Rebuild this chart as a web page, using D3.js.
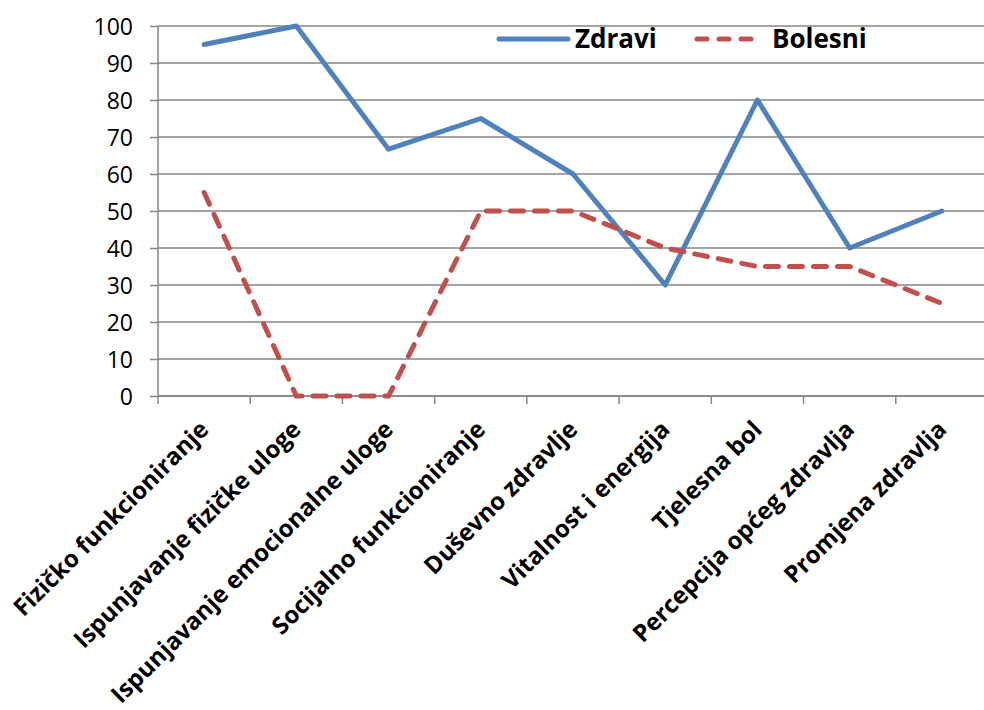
<!DOCTYPE html>
<html><head><meta charset="utf-8">
<script src="https://cdn.jsdelivr.net/npm/d3@7"></script>
<style>body{margin:0;background:#fff}</style>
</head><body>
<svg id="c" width="984" height="710"></svg>
<script>
const categories = ["Fizičko funkcioniranje","Ispunjavanje fizičke uloge","Ispunjavanje emocionalne uloge","Socijalno funkcioniranje","Duševno zdravlje","Vitalnost i energija","Tjelesna bol","Percepcija općeg zdravlja","Promjena zdravlja"];
const zdravi = [95,100,66.7,75,60,30,80,40,50];
const bolesni = [55,0,0,50,50,40,35,35,25];
const yTicks = [0,10,20,30,40,50,60,70,80,90,100];
const seriesNames = ["Zdravi","Bolesni"];

(function(){
const svg = d3.select("#c");
const mLeft=158, mRight=988, mTop=26, mBottom=396;
const x = d3.scaleBand().domain(categories).range([mLeft,mRight]);
const y = d3.scaleLinear().domain([0,100]).range([mBottom,mTop]);
const font = "'Open Sans', Carlito, sans-serif";

svg.append("g").selectAll("line").data(yTicks).join("line")
  .attr("x1",mLeft).attr("x2",984).attr("y1",d=>y(d)).attr("y2",d=>y(d))
  .attr("stroke","#868686").attr("stroke-width",1.5);

const ya = svg.append("g").attr("transform",`translate(${mLeft},0)`)
  .call(d3.axisLeft(y).tickValues(yTicks).tickSize(8).tickPadding(17));
ya.select(".domain").attr("stroke","#868686").attr("stroke-width",1.5).attr("d",`M0,${mBottom}V${mTop}`);
ya.selectAll(".tick line").attr("stroke","#868686").attr("stroke-width",1.5);
ya.selectAll(".tick text").attr("font-family",font).attr("font-size",23).attr("fill","#000").attr("dy","0.35em");

const bounds = categories.map(c=>x(c)).concat([mRight]);
svg.append("g").selectAll("line").data(bounds).join("line")
  .attr("x1",d=>d).attr("x2",d=>d).attr("y1",mBottom).attr("y2",mBottom+8)
  .attr("stroke","#868686").attr("stroke-width",1.5);
svg.append("line").attr("x1",mLeft).attr("x2",984).attr("y1",mBottom).attr("y2",mBottom)
  .attr("stroke","#868686").attr("stroke-width",1.5);

svg.append("g").selectAll("text").data(categories).join("text")
  .attr("transform",d=>`translate(${x(d)+x.bandwidth()/2+6},${mBottom+35}) rotate(-45)`)
  .attr("text-anchor","end").attr("font-family",font).attr("font-weight","bold")
  .attr("font-size",24).attr("fill","#000").text(d=>d);

const line = d3.line().x((d,i)=>x(categories[i])+x.bandwidth()/2).y(d=>y(d));
svg.append("path").datum(zdravi).attr("d",line).attr("fill","none")
  .attr("stroke","#4F81BD").attr("stroke-width",5).attr("stroke-linejoin","round").attr("stroke-linecap","round");
svg.append("path").datum(bolesni).attr("d",line).attr("fill","none")
  .attr("stroke","#C0504D").attr("stroke-width",5).attr("stroke-dasharray","13,11").attr("stroke-linecap","round");

const lg = svg.append("g");
lg.append("line").attr("x1",499).attr("x2",568).attr("y1",39).attr("y2",39)
  .attr("stroke","#4F81BD").attr("stroke-width",5).attr("stroke-linecap","round");
lg.append("text").attr("x",575).attr("y",48).attr("font-family",font).attr("font-weight","bold")
  .attr("font-size",26).text(seriesNames[0]);
lg.append("line").attr("x1",697).attr("x2",755).attr("y1",39).attr("y2",39)
  .attr("stroke","#C0504D").attr("stroke-width",5).attr("stroke-dasharray","10,12").attr("stroke-linecap","round");
lg.append("text").attr("x",772).attr("y",48).attr("font-family",font).attr("font-weight","bold")
  .attr("font-size",26).text(seriesNames[1]);
})();
</script>
</body></html>
